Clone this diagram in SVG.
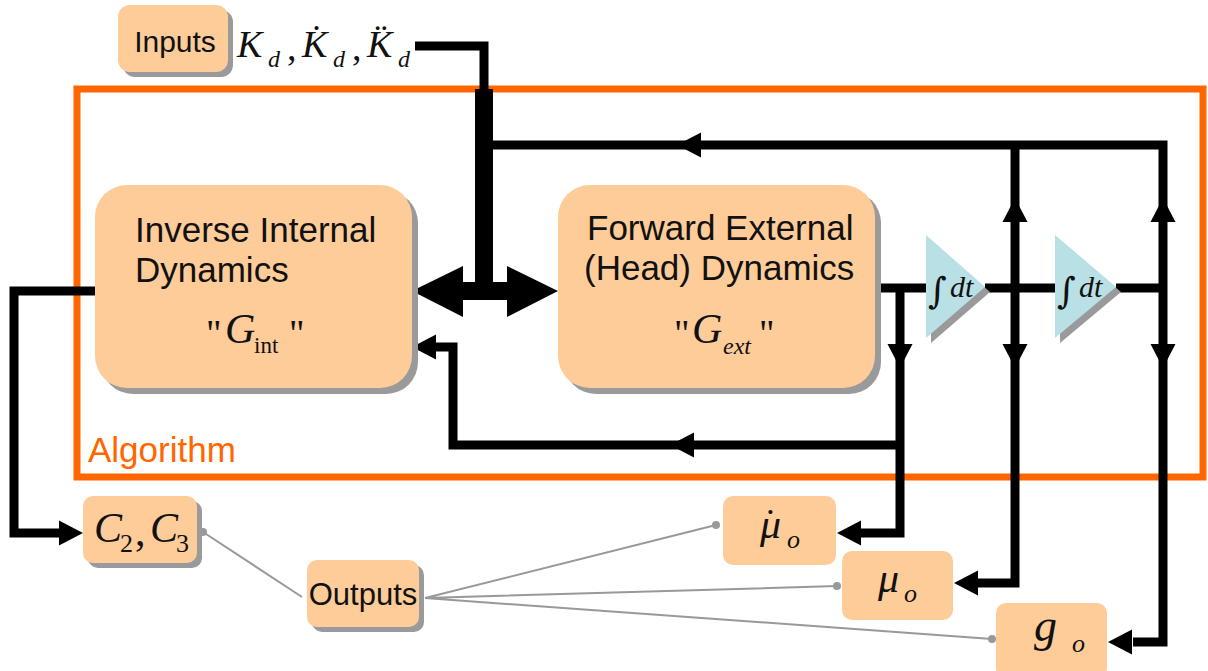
<svg xmlns="http://www.w3.org/2000/svg" xmlns:xlink="http://www.w3.org/1999/xlink" width="1208" height="671" viewBox="0 0 1208 671">
<style>
.box{fill:#FDCC99}
.sh{fill:#9A9A9A}
.tri{fill:#B9E0E4}
.ln{fill:none;stroke:#000;stroke-width:9;stroke-linejoin:miter;stroke-linecap:butt}
.gl{fill:none;stroke:#999;stroke-width:2}
.dot{fill:#999}
.sans{font-family:"Liberation Sans",Arial,sans-serif;fill:#111}
.math{font-family:"Liberation Serif","Times New Roman",serif;font-style:italic;fill:#111}
.up{font-family:"Liberation Serif","Times New Roman",serif;font-style:normal;fill:#111}
.intg{font-family:"DejaVu Serif","Liberation Serif",serif;font-style:normal;fill:#111}
</style>
<defs>
<path id="ah" d="M0 0 L24 -12.5 L24 12.5 Z" fill="#000"/>
</defs>
<rect width="1208" height="671" fill="#fff"/>

<!-- Algorithm frame -->
<g id="algorithm">
<rect x="77" y="89" width="1126" height="388" fill="none" stroke="#FF6600" stroke-width="7"/>
<text x="88" y="462" font-family="Liberation Sans,Arial,sans-serif" font-size="35" fill="#FF6600">Algorithm</text>
</g>

<!-- connectors -->
<g id="connectors">
<path class="ln" d="M415 46 H484 V95" stroke-width="12"/>
<rect x="475" y="89" width="18" height="200" fill="#000"/>
<polygon points="412,291 463,266 463,282 507,282 507,266 558,291 507,317 507,300 463,300 463,317" fill="#000"/>
<path class="ln" d="M484 145 H1163 V642 H1133"/>
<path class="ln" d="M1015 145 V583 H978"/>
<path class="ln" d="M875 288 H926 M985 288 H1055 M1116 288 H1163"/>
<path class="ln" d="M900 288 V533 H860"/>
<path class="ln" d="M900 445 H453 V347 H434"/>
<path class="ln" d="M95 291 H14 V533 H62"/>
<use xlink:href="#ah" transform="translate(677,145)"/>
<use xlink:href="#ah" transform="translate(670,445)"/>
<use xlink:href="#ah" transform="translate(412,347)"/>
<use xlink:href="#ah" transform="translate(900,368) rotate(-90)"/>
<use xlink:href="#ah" transform="translate(1015,368) rotate(-90)"/>
<use xlink:href="#ah" transform="translate(1163,368) rotate(-90)"/>
<use xlink:href="#ah" transform="translate(1015,198) rotate(90)"/>
<use xlink:href="#ah" transform="translate(1163,198) rotate(90)"/>
<use xlink:href="#ah" transform="translate(837,533)"/>
<use xlink:href="#ah" transform="translate(954,583)"/>
<use xlink:href="#ah" transform="translate(1108,642)"/>
<use xlink:href="#ah" transform="translate(83,533) rotate(180)"/>
<!-- output links -->
<path class="gl" d="M203 532 L302 597"/>
<path class="gl" d="M425 598 L716 525 M425 598 L837 586 M425 598 L992 639"/>
<circle class="dot" cx="203" cy="532" r="4"/>
<circle class="dot" cx="716" cy="525" r="4"/>
<circle class="dot" cx="837" cy="586" r="4"/>
<circle class="dot" cx="992" cy="639" r="4"/>
</g>

<!-- Inputs -->
<g id="inputs">
<rect class="sh" x="123" y="10" width="110" height="67" rx="12"/>
<rect class="box" x="118" y="5" width="110" height="67" rx="12"/>
<text class="sans" x="175" y="52" font-size="30" text-anchor="middle">Inputs</text>
</g>
<g id="inputs-label">
<text class="math" font-size="38"><tspan x="237" y="57">K</tspan><tspan x="302" y="57">K̇</tspan><tspan x="367" y="57">K̈</tspan></text>
<text class="math" font-size="24"><tspan x="268" y="67">d</tspan><tspan x="333" y="67">d</tspan><tspan x="398" y="67">d</tspan></text>
<text class="up" font-size="38"><tspan x="287" y="60">,</tspan><tspan x="352" y="60">,</tspan></text>
</g>

<!-- Inverse internal dynamics -->
<g id="inverse">
<rect class="sh" x="101" y="191" width="317" height="203" rx="32"/>
<rect class="box" x="95" y="185" width="317" height="203" rx="32"/>
<text class="sans" font-size="35"><tspan x="135" y="242">Inverse Internal</tspan><tspan x="135" y="282">Dynamics</tspan></text>
<text class="up" font-size="38" x="206" y="346">"</text>
<text class="math" font-size="42" x="225" y="343">G</text>
<text class="up" font-size="23" x="254" y="353">int</text>
<text class="up" font-size="38" x="289" y="346">"</text>
</g>

<!-- Forward external dynamics -->
<g id="forward">
<rect class="sh" x="564" y="191" width="317" height="203" rx="32"/>
<rect class="box" x="558" y="185" width="317" height="203" rx="32"/>
<text class="sans" font-size="35"><tspan x="587" y="240">Forward External</tspan><tspan x="584" y="280">(Head) Dynamics</tspan></text>
<text class="up" font-size="38" x="674" y="346">"</text>
<text class="math" font-size="42" x="692" y="343">G</text>
<text class="math" font-size="24" x="723" y="354">ext</text>
<text class="up" font-size="38" x="759" y="346">"</text>
</g>

<!-- integrators -->
<g id="int1">
<polygon class="sh" points="931,240 990,292 931,343"/>
<polygon class="tri" points="926,235 985,287 926,338"/>
<text class="intg" font-size="36" x="928" y="303">∫</text>
<text class="math" font-size="30" x="950" y="297">dt</text>
</g>
<g id="int2">
<polygon class="sh" points="1060,240 1121,292 1060,343"/>
<polygon class="tri" points="1055,235 1116,287 1055,338"/>
<text class="intg" font-size="36" x="1057" y="303">∫</text>
<text class="math" font-size="30" x="1079" y="297">dt</text>
</g>

<!-- outputs -->
<g id="c2c3">
<rect class="sh" x="88" y="501" width="114" height="67" rx="10"/>
<rect class="box" x="83" y="496" width="114" height="67" rx="10"/>
<text class="math" font-size="42" x="94" y="542">C</text>
<text class="up" font-size="26" x="120" y="552">2</text>
<text class="up" font-size="42" x="135" y="545">,</text>
<text class="math" font-size="42" x="150" y="542">C</text>
<text class="up" font-size="26" x="176" y="552">3</text>
</g>
<g id="outputs">
<rect class="sh" x="312" y="565" width="112" height="67" rx="10"/>
<rect class="box" x="307" y="560" width="112" height="67" rx="10"/>
<text class="sans" x="363" y="605" font-size="31" text-anchor="middle">Outputs</text>
</g>
<g id="mudot">
<rect class="box" x="723" y="496" width="113" height="69" rx="10"/>
<text class="math" font-size="42" x="760" y="538">μ<tspan font-style="normal" font-size="38" dx="-17" dy="-3">˙</tspan><tspan x="787" y="548" font-size="26">o</tspan></text>
</g>
<g id="mu">
<rect class="box" x="842" y="551" width="111" height="69" rx="10"/>
<text class="math" font-size="42" x="878" y="592">μ</text>
<text class="math" font-size="26" x="904" y="602">o</text>
</g>
<g id="g">
<rect class="box" x="996" y="603" width="111" height="75" rx="10"/>
<text class="math" font-size="46" x="1034" y="641">g</text>
<text class="math" font-size="26" x="1072" y="652">o</text>
</g>
</svg>
